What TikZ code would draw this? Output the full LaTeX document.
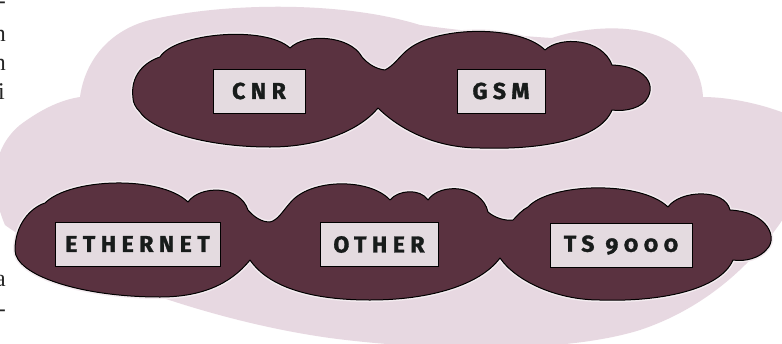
\documentclass[tikz,border=0pt]{standalone}
\usepackage{fontspec}
\newfontfamily\labelfont{Fira Sans}[Numbers=OldStyle, LetterSpace=24, BoldFeatures={FakeBold=1.4}]
\newfontfamily\pagefont{Liberation Serif}
\definecolor{haze}{RGB}{231,216,225}
\definecolor{netfill}{RGB}{90,50,64}
\definecolor{netrim}{RGB}{244,236,240}
\definecolor{tagfill}{RGB}{228,219,224}
\definecolor{taginkc}{RGB}{24,28,27}
\tikzset{
  netcloud/.style={fill=netfill, draw=black, line width=1pt, line join=round},
  cloudrim/.style={draw=netrim, line width=4pt, line join=round},
  tagbox/.style={draw=black, line width=1pt, fill=tagfill, inner sep=0pt,
    minimum height=44pt, text=taginkc, font=\labelfont\bfseries\fontsize{23}{23}\selectfont},
  pagetext/.style={font=\pagefont\fontsize{24}{24}\selectfont, text=black!85, inner sep=0pt, anchor=east}
}
\begin{document}
\begin{tikzpicture}[x=1pt, y=-1pt]
\useasboundingbox (0,0) rectangle (782,343);
\fill[white] (0,0) rectangle (782,343);

% large pale backdrop
\fill[haze] (80,97) .. controls (85,60) and (110,30) .. (150,20)
  .. controls (220,3) and (340,0) .. (420,25)
  .. controls (470,32) and (520,36) .. (552,38)
  .. controls (580,28) and (640,20) .. (675,45)
  .. controls (695,60) and (702,80) .. (703,97)
  .. controls (730,97) and (770,105) .. (800,120)
  -- (800,190)
  .. controls (780,230) and (730,300) .. (640,330)
  .. controls (560,355) and (420,350) .. (330,338)
  .. controls (200,320) and (60,265) .. (5,225)
  .. controls (-10,190) and (-10,150) .. (20,125)
  .. controls (40,110) and (60,100) .. (80,97) -- cycle;

% upper cloud pair
\def\uppercloud{(133,98) .. controls (130,75) and (145,62) .. (160,57)
  .. controls (175,33) and (265,25) .. (290,48)
  .. controls (305,33) and (350,35) .. (362,57)
  .. controls (368,64) and (376,69) .. (385,70)
  .. controls (395,65) and (400,55) .. (410,48)
  .. controls (440,26) and (520,25) .. (545,50)
  .. controls (560,36) and (602,38) .. (612,65)
  .. controls (642,66) and (656,82) .. (648,97)
  .. controls (643,108) and (625,112) .. (612,110)
  .. controls (600,140) and (540,150) .. (480,148)
  .. controls (430,148) and (395,125) .. (378,108)
  .. controls (360,130) and (320,147) .. (270,147)
  .. controls (200,147) and (150,128) .. (140,112)
  .. controls (135,107) and (133,102) .. (133,98) -- cycle}
\path[cloudrim] \uppercloud;
\path[netcloud] \uppercloud;

% lower cloud chain
\def\lowercloud{(15,250) .. controls (15,225) and (30,208) .. (45,203)
  .. controls (70,178) and (160,175) .. (188,202)
  .. controls (200,185) and (240,185) .. (248,210)
  .. controls (255,218) and (262,222) .. (270,222)
  .. controls (278,220) and (282,212) .. (290,203)
  .. controls (310,178) and (370,178) .. (390,200)
  .. controls (398,190) and (420,188) .. (428,200)
  .. controls (440,182) and (482,185) .. (488,212)
  .. controls (495,218) and (505,221) .. (513,220)
  .. controls (518,215) and (522,210) .. (528,207)
  .. controls (550,183) and (640,180) .. (668,207)
  .. controls (680,190) and (725,188) .. (730,210)
  .. controls (768,212) and (778,238) .. (767,249)
  .. controls (760,258) and (745,262) .. (733,260)
  .. controls (720,290) and (660,302) .. (600,300)
  .. controls (555,300) and (515,280) .. (500,258)
  .. controls (480,285) and (430,300) .. (370,300)
  .. controls (300,300) and (265,282) .. (250,260)
  .. controls (230,285) and (200,297) .. (160,297)
  .. controls (80,297) and (15,275) .. (15,250) -- cycle}
\path[cloudrim] \lowercloud;
\path[netcloud] \lowercloud;

% labelled boxes
\node[tagbox, minimum width=92pt]  (cnr)   at (259,91)    {CNR};
\node[tagbox, minimum width=88pt]  (gsm)   at (501,91)    {GSM};
\node[tagbox, minimum width=165pt] (eth)   at (137.5,244) {ETHERNET};
\node[tagbox, minimum width=118pt] (other) at (379,244.5) {OTHER};
\node[tagbox, minimum width=142pt] (ts)    at (621,245)   {TS 9000};

% fragments of the neighbouring page column
\node[pagetext] (f1) at (6,5)   {--};
\node[pagetext] (f2) at (6,36)  {n};
\node[pagetext] (f3) at (6,65)  {n};
\node[pagetext] (f4) at (5,92)  {i};
\node[pagetext] (f5) at (6,281) {a};
\node[pagetext] (f6) at (6,313) {--};
\end{tikzpicture}
\end{document}
